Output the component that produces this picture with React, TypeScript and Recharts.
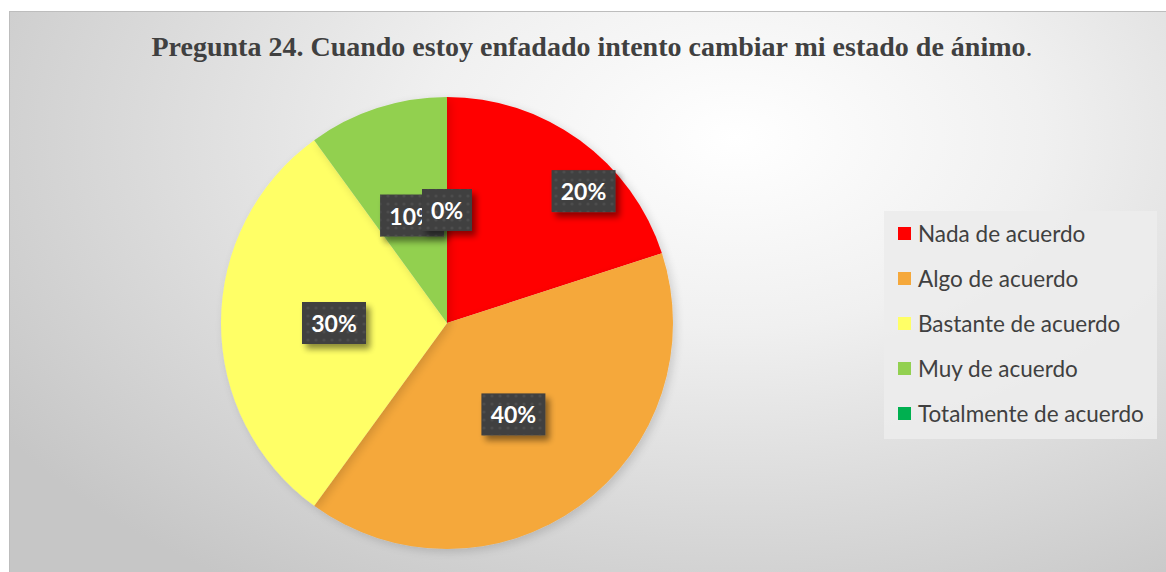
import { PieChart, Pie, Cell, Legend } from 'recharts';

const CATEGORIES = [
  'Nada de acuerdo',
  'Algo de acuerdo',
  'Bastante de acuerdo',
  'Muy de acuerdo',
  'Totalmente de acuerdo',
];
const VALUES = [20, 40, 30, 10, 0];
const COLORS = ['#ff0000', '#f5a83b', '#ffff66', '#92d050', '#00b050'];

const TITLE = 'Pregunta 24. Cuando estoy enfadado intento cambiar mi estado de ánimo';

const data = CATEGORIES.map((name, i) => ({ name, value: VALUES[i] }));

const RAD = Math.PI / 180;

// Excel's best-fit pushed the first label outward, the rest sit at half radius
const labelPlacement = (index: number) =>
  index === 0 ? { r: 0.84, da: -10 } : { r: 0.5, da: 0 };

const renderLabel = (props: any) => {
  const { cx, cy, midAngle, outerRadius, index, value } = props;
  const { r, da } = labelPlacement(index);
  const ang = (midAngle + da) * RAD;
  const x = cx + outerRadius * r * Math.cos(-ang);
  const y = cy + outerRadius * r * Math.sin(-ang);
  const text = `${value}%`;
  const w = 22 + 14 * text.length;
  const h = 42;
  return (
    <g key={`lbl-${index}`}>
      <rect
        x={x - w / 2}
        y={y - h / 2}
        width={w}
        height={h}
        fill="#404040"
        filter="url(#lblShadow)"
      />
      <rect x={x - w / 2} y={y - h / 2} width={w} height={h} fill="url(#dots)" />
      <text
        x={x}
        y={y}
        fill="#ffffff"
        textAnchor="middle"
        dominantBaseline="central"
        style={{ fontFamily: 'Lato, sans-serif', fontWeight: 700, fontSize: 23 }}
      >
        {text}
      </text>
    </g>
  );
};

const renderLegend = (props: any) => {
  const payload = [...(props.payload || [])].sort(
    (a: any, b: any) => CATEGORIES.indexOf(a.value) - CATEGORIES.indexOf(b.value)
  );
  return (
    <div
      style={{
        background: 'rgba(236,236,236,0.9)',
        padding: '0 8px 3px 14px',
        width: 251,
      }}
    >
      {payload.map((entry: any) => (
        <div
          key={entry.value}
          style={{ display: 'flex', alignItems: 'center', height: 45 }}
        >
          <span
            style={{
              display: 'inline-block',
              width: 13,
              height: 13,
              background: entry.color,
              marginRight: 7,
            }}
          />
          <span
            style={{
              fontFamily: 'Lato, sans-serif',
              fontSize: 22.5,
              color: '#404040',
              whiteSpace: 'nowrap',
            }}
          >
            {entry.value}
          </span>
        </div>
      ))}
    </div>
  );
};

export default function App() {
  return (
    <div
      style={{
        position: 'absolute',
        left: 0,
        top: 0,
        width: 1166,
        height: 572,
        background: '#ffffff',
        overflow: 'hidden',
      }}
    >
      <div
        style={{
          position: 'absolute',
          left: 9,
          top: 11,
          width: 1170,
          height: 570,
          border: '1px solid #bdbdbd',
          background:
            'radial-gradient(ellipse 75% 95% at 62% 22%, #ffffff 0%, #f0f0f0 35%, #d9d9d9 70%, #c6c6c6 100%)',
        }}
      />
      <div
        style={{
          position: 'absolute',
          left: 9,
          top: 31,
          width: 1166,
          textAlign: 'center',
          fontFamily: '"Liberation Serif", serif',
          fontSize: 28,
          fontWeight: 700,
          color: '#404040',
        }}
      >
        {TITLE}
        <span style={{ fontWeight: 400 }}>.</span>
      </div>
      <div style={{ position: 'absolute', left: 0, top: 0 }}>
        <PieChart
          width={1166}
          height={572}
          margin={{ top: 0, right: 0, bottom: 0, left: 0 }}
        >
          <defs>
            <filter id="lblShadow" x="-30%" y="-30%" width="170%" height="180%">
              <feGaussianBlur in="SourceAlpha" stdDeviation="3" />
              <feOffset dx="4" dy="5" result="b" />
              <feComponentTransfer>
                <feFuncA type="linear" slope="0.45" />
              </feComponentTransfer>
              <feMerge>
                <feMergeNode />
                <feMergeNode in="SourceGraphic" />
              </feMerge>
            </filter>
            <filter id="pieShadow" x="-10%" y="-10%" width="125%" height="125%">
              <feGaussianBlur in="SourceAlpha" stdDeviation="5" />
              <feOffset dx="3" dy="3" />
              <feComponentTransfer>
                <feFuncA type="linear" slope="0.15" />
              </feComponentTransfer>
              <feMerge>
                <feMergeNode />
                <feMergeNode in="SourceGraphic" />
              </feMerge>
            </filter>
            <pattern id="dots" width="8" height="8" patternUnits="userSpaceOnUse">
              <circle cx="4" cy="4" r="1.6" fill="#555555" opacity="0.6" />
            </pattern>
          </defs>
          <Pie
            data={data}
            dataKey="value"
            nameKey="name"
            cx={447}
            cy={323}
            outerRadius={226}
            startAngle={90}
            endAngle={-270}
            stroke="none"
            label={renderLabel}
            labelLine={false}
            isAnimationActive={false}
            style={{ filter: 'url(#pieShadow)' }}
          >
            {data.map((d, i) => (
              <Cell key={d.name} fill={COLORS[i]} />
            ))}
          </Pie>
          <Legend
            layout="vertical"
            align="right"
            verticalAlign="top"
            content={renderLegend}
            wrapperStyle={{ left: 884, top: 211, width: 273 }}
          />
        </PieChart>
      </div>
    </div>
  );
}
